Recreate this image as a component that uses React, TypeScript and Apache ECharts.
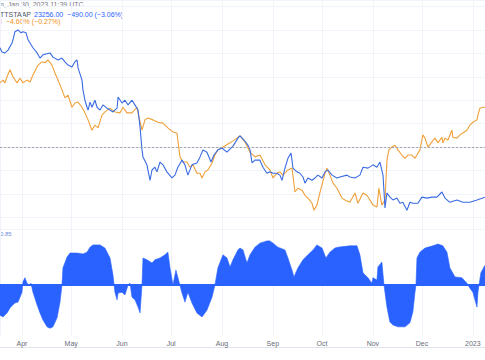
import React, { useEffect, useRef } from "react";
import * as echarts from "echarts";

// x positions are day-of-year 2022 (values > 365 run into 2023)
const blueDays = [77.6, 78.8, 80.6, 82.5, 84.9, 85.5, 86.7, 88.6, 90.4, 91.6, 93.5, 94.7, 97.7, 100.2, 102.0, 103.8, 108.1, 109.9, 113.0, 115.4, 117.2, 119.1, 121.5, 123.3, 124.6, 125.2, 127.6, 128.2, 129.4, 130.7, 131.3, 132.5, 133.7, 135.5, 136.8, 138.6, 140.4, 142.8, 144.7, 146.5, 149.0, 149.6, 152.0, 153.8, 155.7, 158.1, 159.9, 161.8, 163.0, 164.2, 164.8, 167.2, 169.1, 170.3, 172.1, 173.3, 175.2, 177.0, 179.4, 182.5, 184.3, 186.1, 188.6, 190.4, 192.2, 194.7, 197.7, 199.6, 201.4, 203.8, 206.3, 208.1, 210.5, 213.0, 216.0, 219.7, 222.7, 224.0, 226.4, 228.8, 230.1, 231.3, 233.1, 236.1, 238.0, 240.4, 242.2, 244.1, 246.5, 248.3, 249.6, 251.4, 253.2, 255.1, 256.3, 258.7, 260.5, 262.4, 263.6, 265.4, 267.9, 269.7, 271.5, 274.0, 275.8, 277.6, 280.1, 283.1, 284.9, 289.2, 291.0, 294.1, 297.1, 299.0, 302.0, 305.1, 307.5, 309.3, 311.2, 312.4, 313.6, 315.4, 317.3, 319.7, 321.5, 323.3, 325.8, 327.6, 329.4, 332.5, 334.9, 338.0, 341.0, 344.1, 347.1, 349.0, 352.0, 356.3, 359.9, 364.2, 368.5, 373.4];
const blueValues = [21.2, 20.3, 20.1, 20.7, 22.2, 22.9, 24.6, 25.0, 24.4, 24.6, 24.4, 22.9, 21.2, 20.1, 19.0, 19.7, 20.1, 19.2, 18.6, 19.0, 18.2, 17.5, 17.1, 18.2, 18.6, 16.9, 14.3, 12.2, 10.0, 8.5, 7.9, 9.6, 8.5, 10.0, 8.5, 7.9, 9.0, 8.3, 7.9, 7.5, 8.3, 10.7, 9.4, 10.0, 9.0, 10.0, 9.0, 7.9, 4.3, -0.6, -2.1, -3.8, -7.1, -4.9, -4.3, -5.3, -3.2, -3.8, -5.3, -6.6, -6.0, -4.3, -2.8, -3.8, -6.0, -3.8, -3.4, -2.1, -0.6, -1.1, -3.2, -1.7, -0.6, -0.2, -1.1, 0.2, 1.9, 2.4, 1.5, 0.4, -0.6, -3.4, -2.8, -2.8, -4.3, -5.6, -5.3, -5.6, -5.6, -6.0, -7.1, -4.5, -2.4, -1.3, -4.5, -5.3, -5.6, -6.4, -7.7, -6.6, -7.1, -6.6, -6.0, -6.6, -5.3, -4.9, -6.0, -6.6, -6.4, -6.0, -6.4, -6.6, -6.0, -4.3, -4.5, -3.8, -4.3, -3.2, -6.0, -13.0, -9.8, -10.7, -11.3, -10.9, -12.0, -11.8, -13.5, -11.8, -12.0, -12.0, -10.7, -10.9, -10.7, -10.7, -9.6, -10.9, -11.8, -11.3, -11.8, -11.8, -11.3, -10.7];

const orangeDays = [77.6, 79.4, 80.6, 81.9, 83.7, 85.5, 88.0, 89.8, 91.6, 94.1, 95.9, 97.7, 100.8, 103.2, 105.0, 106.9, 109.3, 111.1, 113.0, 115.4, 117.2, 119.1, 121.5, 123.3, 125.2, 127.6, 129.4, 131.3, 133.7, 135.5, 137.4, 139.8, 141.6, 144.7, 147.7, 150.8, 152.6, 155.0, 158.1, 161.1, 161.8, 164.2, 166.0, 167.9, 170.9, 173.9, 177.0, 180.0, 183.1, 185.5, 186.8, 187.4, 189.2, 191.6, 193.5, 195.3, 197.7, 199.6, 200.8, 202.6, 204.4, 206.9, 208.7, 210.5, 213.6, 217.9, 222.1, 224.0, 227.0, 230.1, 233.1, 236.1, 239.2, 242.2, 244.1, 246.5, 248.3, 250.2, 253.2, 255.7, 257.5, 259.3, 261.8, 263.6, 265.4, 267.9, 269.1, 270.9, 272.7, 275.8, 277.0, 278.8, 280.7, 283.1, 286.2, 288.0, 291.0, 294.1, 295.9, 299.0, 301.4, 303.2, 305.1, 307.5, 308.7, 310.5, 312.4, 313.6, 314.8, 316.6, 318.5, 320.3, 322.7, 324.6, 326.4, 328.8, 330.7, 333.7, 335.5, 336.8, 338.6, 341.0, 342.9, 344.7, 347.1, 347.7, 349.0, 350.8, 353.2, 353.8, 356.3, 358.1, 359.9, 362.4, 364.2, 366.0, 368.5, 369.1, 370.3, 372.1, 373.4];
const orangeValues = [13.7, 14.3, 13.7, 15.0, 16.5, 15.0, 13.7, 14.7, 13.7, 14.3, 13.9, 15.4, 17.5, 18.2, 18.0, 18.6, 17.5, 15.8, 14.3, 12.2, 10.5, 11.1, 8.5, 9.4, 9.6, 8.5, 7.3, 5.8, 3.6, 4.7, 4.1, 6.8, 7.5, 8.3, 7.5, 7.3, 8.5, 7.3, 7.3, 8.5, 7.3, 3.6, 5.8, 6.2, 5.8, 5.3, 5.1, 4.1, 3.2, 3.0, -0.6, -2.1, -3.2, -3.2, -4.3, -3.8, -5.6, -5.6, -6.6, -5.3, -4.9, -3.4, -1.7, -0.6, 0.0, 0.9, 1.9, 2.4, 1.1, -1.1, -2.1, -1.7, -3.8, -4.9, -6.6, -5.6, -5.3, -6.0, -4.9, -4.5, -9.6, -8.8, -9.2, -10.3, -10.9, -12.0, -13.5, -12.4, -9.8, -5.6, -4.5, -6.0, -7.7, -8.8, -10.9, -11.3, -11.8, -9.8, -12.0, -9.8, -10.3, -11.3, -12.4, -12.8, -8.8, -12.4, -11.3, -2.8, -0.6, 0.0, 0.4, -0.6, -1.7, -2.4, -1.7, -1.7, -2.4, -0.6, 2.6, 1.9, 0.0, 1.1, 1.9, 0.9, 2.1, 0.9, 1.9, 1.5, 3.6, 2.1, 1.9, 2.6, 3.0, 3.6, 4.7, 5.3, 5.8, 6.8, 8.3, 8.5, 8.5];

const corrDays = [77.6, 79.4, 81.9, 83.7, 85.5, 86.7, 88.6, 89.8, 91.0, 91.6, 92.8, 94.1, 95.3, 96.5, 97.7, 100.2, 102.0, 103.8, 106.3, 108.1, 109.9, 112.4, 114.2, 115.4, 116.0, 118.5, 120.3, 124.6, 128.2, 130.7, 132.5, 134.3, 138.6, 141.6, 144.7, 146.5, 147.7, 149.0, 149.6, 152.0, 153.8, 155.7, 156.9, 158.1, 159.9, 161.8, 163.0, 164.2, 164.8, 167.2, 170.3, 172.1, 175.2, 178.2, 180.0, 181.3, 183.1, 184.9, 186.8, 188.6, 190.4, 192.2, 194.7, 197.7, 200.8, 203.8, 206.9, 208.7, 210.5, 213.6, 216.0, 217.9, 219.7, 222.7, 224.0, 225.8, 228.2, 230.1, 233.1, 236.1, 240.4, 242.2, 244.1, 247.1, 251.4, 253.2, 255.7, 256.9, 259.3, 262.4, 265.4, 268.5, 270.9, 274.0, 276.4, 278.8, 281.9, 283.7, 291.0, 295.3, 297.1, 299.0, 302.0, 304.4, 305.1, 307.5, 308.1, 310.5, 311.8, 313.6, 315.4, 317.3, 320.3, 324.6, 327.6, 329.4, 330.7, 331.3, 331.9, 333.7, 336.8, 341.6, 344.7, 347.7, 350.2, 352.0, 355.1, 359.3, 362.4, 364.2, 366.0, 368.5, 369.1, 370.9, 373.4];
const corrValues = [-0.67, -0.71, -0.62, -0.51, -0.44, -0.40, -0.38, -0.27, -0.16, 0.07, 0.16, 0.04, 0.0, 0.04, -0.16, -0.44, -0.62, -0.78, -0.93, -0.96, -0.93, -0.73, -0.38, 0.0, 0.38, 0.62, 0.71, 0.71, 0.69, 0.73, 0.84, 0.89, 0.89, 0.82, 0.60, 0.22, -0.16, -0.33, -0.18, -0.16, -0.22, 0.0, 0.04, -0.27, -0.33, -0.49, -0.62, 0.0, 0.60, 0.56, 0.49, 0.56, 0.60, 0.67, 0.73, 0.38, 0.0, 0.33, 0.07, -0.18, -0.38, -0.16, -0.40, -0.62, -0.71, -0.56, -0.27, 0.0, 0.38, 0.67, 0.60, 0.40, 0.56, 0.78, 0.82, 0.78, 0.49, 0.67, 0.84, 0.93, 0.98, 0.98, 0.93, 0.84, 0.78, 0.60, 0.33, 0.18, 0.38, 0.56, 0.67, 0.78, 0.89, 0.82, 0.60, 0.73, 0.82, 0.84, 0.87, 0.87, 0.67, 0.27, 0.16, 0.04, 0.16, 0.11, 0.40, 0.51, 0.0, -0.49, -0.82, -0.89, -0.93, -0.93, -0.84, -0.60, -0.16, 0.0, 0.60, 0.73, 0.82, 0.87, 0.91, 0.87, 0.73, 0.38, 0.18, 0.16, 0.04, -0.07, -0.16, -0.49, -0.16, 0.27, 0.44];

const MONTHS = ["Jan", "Feb", "Mar", "Apr", "May", "Jun", "Jul", "Aug", "Sep", "Oct", "Nov", "Dec"];
const headerDate = "n, Jan 30, 2023 11:39 UTC";
const headerSymbol = "TTSTAAP";
const headerBlue = "23256.00  −490.00 (−3.06%)";
const headerOrange = "I  −4.60% (−0.27%)";
const corrLabel = "0.85";

const DAY = 86400000;
const BASE = new Date(2022, 0, 1).getTime();
const ts = (d: number) => BASE + (d - 1) * DAY;
const pairs = (days: number[], vals: number[]) => days.map((d, i) => [ts(d), vals[i]]);

const BLUE = "#3a6be2";
const ORANGE = "#f0a03a";
const FILL = "#2962ff";
const GRID = "#f0f3fa";
const FONT = "Liberation Sans, Arial, sans-serif";

export default function App() {
  const ref = useRef<HTMLDivElement>(null);
  useEffect(() => {
    document.body.style.margin = "0";
    if (!ref.current) return;
    const chart = echarts.init(ref.current, null, { renderer: "svg" });
    const xMin = ts(77.6);
    const xMax = ts(373.4);
    const xBase = {
      type: "time",
      min: xMin,
      max: xMax,
      minInterval: 28 * DAY,
      maxInterval: 31 * DAY,
      axisTick: { show: false },
      splitLine: { show: true, lineStyle: { color: GRID, width: 1 } },
    };
    chart.setOption({
      animation: false,
      backgroundColor: "#ffffff",
      textStyle: { fontFamily: FONT },
      grid: [
        { left: 0, right: 0, top: 0, height: 229 },
        { left: 0, right: 0, top: 229, height: 106 },
      ],
      xAxis: [
        {
          ...xBase,
          gridIndex: 0,
          axisLabel: { show: false },
          axisLine: { show: true, lineStyle: { color: "#e0e3eb", width: 1 } },
        },
        {
          ...xBase,
          gridIndex: 1,
          axisLine: { show: true, lineStyle: { color: "#e0e3eb", width: 1 } },
          axisLabel: {
            show: true,
            color: "#6a6d78",
            fontSize: 7,
            margin: 5,
            showMinLabel: false,
            showMaxLabel: false,
            formatter: (v: number) => {
              const d = new Date(v);
              return d.getMonth() === 0 ? String(d.getFullYear()) : MONTHS[d.getMonth()];
            },
          },
        },
      ],
      yAxis: [
        {
          gridIndex: 0,
          type: "value",
          min: -17.5,
          max: 31.4,
          minInterval: 5,
          maxInterval: 5,
          axisLabel: { show: false },
          axisLine: { show: false },
          axisTick: { show: false },
          splitLine: { show: true, lineStyle: { color: GRID, width: 1 } },
        },
        {
          gridIndex: 1,
          type: "value",
          min: -1.111,
          max: 1.244,
          axisLabel: { show: false },
          axisLine: { show: false },
          axisTick: { show: false },
          splitLine: { show: false },
        },
      ],
      series: [
        {
          type: "line",
          name: "orange",
          xAxisIndex: 0,
          yAxisIndex: 0,
          data: pairs(orangeDays, orangeValues),
          symbol: "none",
          lineStyle: { color: ORANGE, width: 1.1 },
          itemStyle: { color: ORANGE },
          z: 3,
          markLine: {
            silent: true,
            symbol: ["none", "none"],
            label: { show: false },
            lineStyle: { color: "#a3a6af", type: [2, 2], width: 1 },
            data: [{ yAxis: 0 }],
          },
        },
        {
          type: "line",
          name: "blue",
          xAxisIndex: 0,
          yAxisIndex: 0,
          data: pairs(blueDays, blueValues),
          symbol: "none",
          lineStyle: { color: BLUE, width: 1.1 },
          itemStyle: { color: BLUE },
          z: 4,
        },
        {
          type: "line",
          name: "corr",
          xAxisIndex: 1,
          yAxisIndex: 1,
          data: pairs(corrDays, corrValues),
          symbol: "none",
          lineStyle: { color: FILL, width: 0.6 },
          areaStyle: { color: FILL, opacity: 1, origin: 0 },
          itemStyle: { color: FILL },
          markLine: {
            silent: true,
            symbol: ["none", "none"],
            label: { show: false },
            lineStyle: { color: FILL, type: "solid", width: 2 },
            data: [{ yAxis: 0 }],
          },
        },
      ],
      graphic: [
        {
          type: "text",
          left: 0,
          top: 1,
          style: { text: headerDate, fill: "#787b86", fontSize: 7, fontFamily: FONT },
        },
        {
          type: "text",
          left: 0,
          top: 11,
          style: { text: headerSymbol, fill: "#50535e", fontSize: 7, fontFamily: FONT },
        },
        {
          type: "text",
          left: 34,
          top: 11,
          style: { text: headerBlue, fill: "#2962ff", fontSize: 7, fontFamily: FONT },
        },
        {
          type: "text",
          left: 0,
          top: 18,
          style: { text: headerOrange, fill: "#f09020", fontSize: 7, fontFamily: FONT },
        },
        {
          type: "text",
          left: 0,
          top: 231,
          style: { text: corrLabel, fill: "#6f8bd8", fontSize: 6, fontFamily: FONT },
        },
        {
          type: "line",
          shape: { x1: 0, y1: 347.5, x2: 485, y2: 347.5 },
          style: { stroke: "#e0e3eb", lineWidth: 1 },
        },
      ],
    });
    return () => chart.dispose();
  }, []);
  return <div ref={ref} style={{ width: 485, height: 360 }} />;
}
